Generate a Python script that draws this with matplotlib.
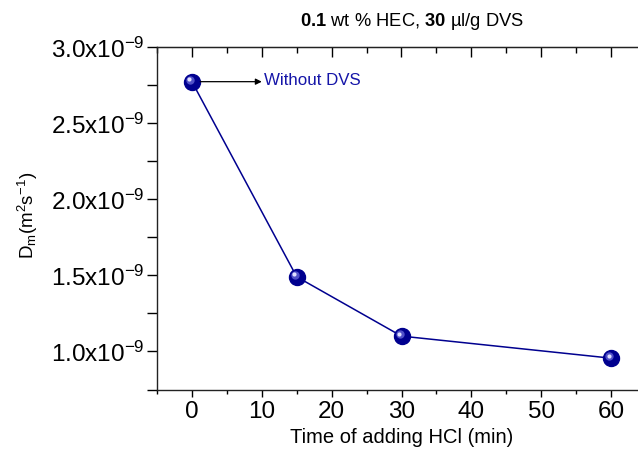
import matplotlib
matplotlib.use("Agg")
import matplotlib.pyplot as plt
from matplotlib.ticker import MultipleLocator, FuncFormatter
from matplotlib.transforms import offset_copy

plt.rcParams['font.family'] = ['Liberation Sans', 'DejaVu Sans']
plt.rcParams['mathtext.fontset'] = 'custom'
plt.rcParams['mathtext.rm'] = 'Liberation Sans'
plt.rcParams['mathtext.it'] = 'Liberation Sans:italic'
plt.rcParams['mathtext.bf'] = 'Liberation Sans:bold'

# time of HCl addition (min) and diffusion coefficient (m^2/s)
time_min = [0, 15, 30, 60]
d_m = [2.774e-9, 1.491e-9, 1.101e-9, 0.956e-9]
note = "Without DVS"

navy = '#00008f'

fig = plt.figure(figsize=(6.38, 4.53), dpi=100)
W, H = 638, 453
# axes runs a bit past the right edge of the figure
ax = fig.add_axes([157 / W, 1 - 389.5 / H, 489 / W, (389.5 - 47.3) / H])

ax.plot(time_min, d_m, color=navy, lw=1.1, zorder=2)
ax.plot(time_min, d_m, 'o', ms=11.5, color=navy, mec=navy, zorder=3)
# glossy highlight on each ball
hl1 = offset_copy(ax.transData, fig=fig, x=-2.0, y=2.0, units='dots')
hl2 = offset_copy(ax.transData, fig=fig, x=-2.5, y=2.5, units='dots')
ax.plot(time_min, d_m, 'o', ms=6, color='#5050c8', mew=0, transform=hl1, zorder=4)
ax.plot(time_min, d_m, 'o', ms=3, color='#e0e0ff', mew=0, transform=hl2, zorder=5)

ax.annotate('', xy=(10.0, d_m[0]), xytext=(time_min[0], d_m[0]),
            arrowprops=dict(arrowstyle='-|>', color='black', lw=0.9,
                            shrinkA=6, shrinkB=0, mutation_scale=9))
ax.text(10.3, d_m[0] + 0.01e-9, note, color='#1515a8', fontsize=12.2, va='center', ha='left')

ax.set_xlim(-5, 65)
ax.set_ylim(0.75e-9, 3.0e-9)
ax.xaxis.set_major_locator(MultipleLocator(10))
ax.xaxis.set_minor_locator(MultipleLocator(5))
ax.yaxis.set_major_locator(MultipleLocator(0.5e-9))
ax.yaxis.set_minor_locator(MultipleLocator(0.25e-9))
ax.yaxis.set_major_formatter(FuncFormatter(lambda v, p: f"{v * 1e9:.1f}x10$^{{-9}}$"))

ax.spines['right'].set_visible(False)
for s in ['left', 'bottom', 'top']:
    ax.spines[s].set_color('#222222')
    ax.spines[s].set_linewidth(1.0)

ax.tick_params(axis='x', which='major', direction='out', length=5, width=1,
               labelsize=17.5, pad=3, top=False)
ax.tick_params(axis='x', which='minor', direction='out', length=3, width=1, top=False)
ax.tick_params(axis='y', which='major', direction='out', length=7, width=1,
               labelsize=17.5, pad=2)
ax.tick_params(axis='y', which='minor', direction='out', length=7, width=1)

# top axis with inward ticks, no labels
top = ax.secondary_xaxis('top')
top.xaxis.set_major_locator(MultipleLocator(10))
top.xaxis.set_minor_locator(MultipleLocator(5))
top.tick_params(which='major', direction='in', length=7, width=1, labeltop=False)
top.tick_params(which='minor', direction='in', length=4, width=1)
top.spines['top'].set_color('#222222')

ax.set_xlabel('Time of adding HCl (min)', fontsize=14.5, labelpad=4)
ax.set_ylabel(r'D$_\mathrm{m}$(m$^\mathrm{2}$s$^\mathrm{-1}$)', fontsize=13.5)
ax.yaxis.set_label_coords((40 - 157) / 489, (389.5 - 215) / 342.2)

fig.text(412 / W, 1 - 22 / H, r'$\mathbf{0.1}$ wt % HEC, $\mathbf{30}$ µl/g DVS',
         ha='center', va='center', fontsize=13.2)

fig.savefig('out.png', dpi=100)
